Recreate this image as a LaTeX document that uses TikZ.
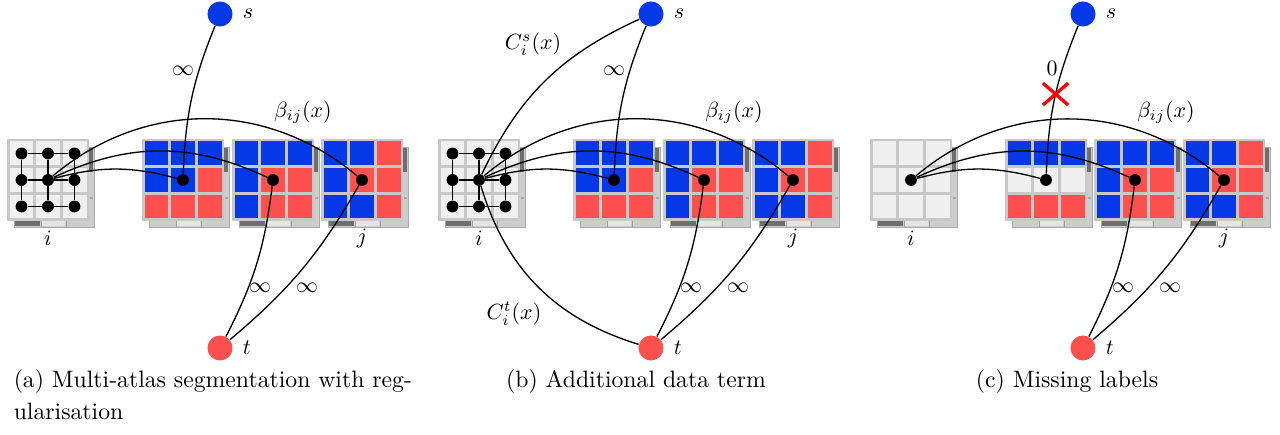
\documentclass[tikz,border=0pt]{standalone}
\usepackage{xcolor}
\usepackage{tikz}
\usetikzlibrary{positioning,shapes.misc}

\begin{document}
\begin{tikzpicture}[x=0.016cm, y=0.016cm,
  punto/.style={circle, fill=black, inner sep=0pt, minimum size=5.4pt},
  nodoS/.style={circle, fill=colBlu, inner sep=0pt, minimum size=11.4pt},
  nodoT/.style={circle, fill=colRosso, inner sep=0pt, minimum size=11.4pt},
  arco/.style={line width=0.6pt},
  didasc/.style={font=\fontsize{10.8pt}{13pt}\selectfont},
  croce/.style={cross out, draw=red, line width=1.5pt, minimum width=10pt, minimum height=8.5pt, inner sep=0pt}]

% Colori
\definecolor{colBlu}{HTML}{0538E6}
\definecolor{colRosso}{HTML}{FF5050}
\definecolor{colChiaro}{HTML}{F0F0F0}
\definecolor{colBordo}{HTML}{C8C8C8}
\definecolor{colOmbra}{HTML}{CDCDCD}
\definecolor{colScuro}{HTML}{6E6E6E}
\colorlet{bl}{colBlu}
\colorlet{rs}{colRosso}
\colorlet{gr}{colChiaro}

\useasboundingbox (0,0) rectangle (1280,-435);

% Riquadro 3x3: centro x, centro y, 9 colori, barra scura in basso (1/0)
\def\riquadro#1#2#3#4{%
  \begin{scope}[shift={(#1,#2)}]
    \fill[colOmbra, draw=colBordo!85!black, line width=0.2pt] (-34,33) rectangle (46,-47);
    \fill[colScuro] (41,32) rectangle (45,8);
    \fill[colScuro!60] (42,-17) rectangle (45,-19);
    \ifnum#4=1 \fill[colScuro] (-33,-41) rectangle (-8,-46);\fi
    \fill[colChiaro!70!colOmbra] (-6,-41) rectangle (17,-46);
    \draw[colBordo!80!black, line width=0.3pt] (-7,-41) -- (-7,-47) (18,-41) -- (18,-47);
    \fill[colBordo] (-41,41) rectangle (41,-41);
    \foreach \cc [count=\k from 0] in {#3} {
      \pgfmathtruncatemacro\kc{mod(\k,3)}
      \pgfmathtruncatemacro\kr{(\k+0.5)/3}
      \fill[fill=\cc] ({-40+26.667*\kc+1.5},{40-26.667*\kr-1.5}) rectangle ++(23.667,-23.667);
    }
  \end{scope}}

% Pannello (a)
\riquadro{48}{-180}{gr,gr,gr,gr,gr,gr,gr,gr,gr}{1}
\riquadro{183}{-180}{bl,bl,bl,bl,bl,rs,rs,rs,rs}{0}
\riquadro{273}{-180}{bl,bl,bl,bl,rs,rs,bl,rs,rs}{1}
\riquadro{362}{-180}{bl,bl,rs,bl,rs,rs,bl,bl,rs}{1}

\foreach \r in {0,1,2}
  \foreach \c in {0,1,2}
    \node[punto] (a\r\c) at ({48+26.5*(\c-1)},{-180-26.5*(\r-1)}) {};
\foreach \r in {0,1,2} \draw[arco] (a\r0) -- (a\r1) -- (a\r2);
\foreach \c in {0,1,2} \draw[arco] (a0\c) -- (a1\c) -- (a2\c);

\node[punto] (aP1) at (183,-180) {};
\node[punto] (aP2) at (273,-180) {};
\node[punto] (aP3) at (362,-180) {};
\node[nodoS] (aS) at (220,-14) {};
\node[nodoT] (aT) at (220,-348) {};
\node[right=1pt of aS] (aSl) {$s$};
\node[right=1pt of aT] (aTl) {$t$};

\draw[arco] (a11) to[bend left=15] (aP1);
\draw[arco] (a11) to[bend left=25] (aP2);
\draw[arco] (a11) to[bend left=40] (aP3);
\draw[arco] (aS) to[bend right=10] (aP1);
\draw[arco] (aT) to[bend right=10] (aP2);
\draw[arco] (aT) to[bend right=10] (aP3);

\node (aInf) at (183,-71) {$\infty$};
\node (aBeta) at (303,-112) {$\beta_{ij}(x)$};
\node (aInf2) at (260,-288) {$\infty$};
\node (aInf3) at (307,-288) {$\infty$};
\node (aI) at (48,-238) {$i$};
\node (aJ) at (362,-238) {$j$};
\node[didasc, anchor=base west] (aCap) at (6,-388) {(a) Multi-atlas segmentation with reg-};
\node[didasc, anchor=base west] (aCap2) at (6,-420) {ularisation};

% Pannello (b)
\riquadro{479}{-180}{gr,gr,gr,gr,gr,gr,gr,gr,gr}{1}
\riquadro{614}{-180}{bl,bl,bl,bl,bl,rs,rs,rs,rs}{0}
\riquadro{704}{-180}{bl,bl,bl,bl,rs,rs,bl,rs,rs}{1}
\riquadro{793}{-180}{bl,bl,rs,bl,rs,rs,bl,bl,rs}{1}

\foreach \r in {0,1,2}
  \foreach \c in {0,1,2}
    \node[punto] (b\r\c) at ({479+26.5*(\c-1)},{-180-26.5*(\r-1)}) {};
\foreach \r in {0,1,2} \draw[arco] (b\r0) -- (b\r1) -- (b\r2);
\foreach \c in {0,1,2} \draw[arco] (b0\c) -- (b1\c) -- (b2\c);

\node[punto] (bP1) at (614,-180) {};
\node[punto] (bP2) at (704,-180) {};
\node[punto] (bP3) at (793,-180) {};
\node[nodoS] (bS) at (651,-14) {};
\node[nodoT] (bT) at (651,-348) {};
\node[right=1pt of bS] (bSl) {$s$};
\node[right=1pt of bT] (bTl) {$t$};

\draw[arco] (b11) to[bend left=15] (bP1);
\draw[arco] (b11) to[bend left=25] (bP2);
\draw[arco] (b11) to[bend left=40] (bP3);
\draw[arco] (bS) to[bend right=10] (bP1);
\draw[arco] (bT) to[bend right=10] (bP2);
\draw[arco] (bT) to[bend right=10] (bP3);
\draw[arco] (bS) to[bend right=20] (b11);
\draw[arco] (b11) to[bend right=28] (bT);

\node (bInf) at (614,-71) {$\infty$};
\node (bBeta) at (734,-112) {$\beta_{ij}(x)$};
\node (bInf2) at (691,-288) {$\infty$};
\node (bInf3) at (738,-288) {$\infty$};
\node[inner sep=0.5pt] (bCs) at (533,-44) {$C_i^s(x)$};
\node[inner sep=0.5pt] (bCt) at (514,-314) {$C_i^t(x)$};
\node (bI) at (479,-238) {$i$};
\node (bJ) at (793,-238) {$j$};
\node[didasc, anchor=base] (bCap) at (636,-388) {(b) Additional data term};

% Pannello (c)
\riquadro{911}{-180}{gr,gr,gr,gr,gr,gr,gr,gr,gr}{1}
\riquadro{1046}{-180}{bl,bl,bl,gr,gr,gr,rs,rs,rs}{0}
\riquadro{1135}{-180}{bl,bl,bl,bl,rs,rs,bl,rs,rs}{1}
\riquadro{1224}{-180}{bl,bl,rs,bl,rs,rs,bl,bl,rs}{1}

\node[punto] (cI) at (911,-180) {};
\node[punto] (cP1) at (1046,-180) {};
\node[punto] (cP2) at (1135,-180) {};
\node[punto] (cP3) at (1224,-180) {};
\node[nodoS] (cS) at (1083,-14) {};
\node[nodoT] (cT) at (1083,-348) {};
\node[right=1pt of cS] (cSl) {$s$};
\node[right=1pt of cT] (cTl) {$t$};

\draw[arco] (cI) to[bend left=15] (cP1);
\draw[arco] (cI) to[bend left=25] (cP2);
\draw[arco] (cI) to[bend left=40] (cP3);
\draw[arco] (cS) to[bend right=10] node[pos=0.47, croce] (cX) {} (cP1);
\draw[arco] (cT) to[bend right=10] (cP2);
\draw[arco] (cT) to[bend right=10] (cP3);

\node (cZero) at (1052,-68) {$0$};
\node (cBeta) at (1166,-112) {$\beta_{ij}(x)$};
\node (cInf2) at (1123,-288) {$\infty$};
\node (cInf3) at (1170,-288) {$\infty$};
\node (cIl) at (911,-238) {$i$};
\node (cJ) at (1224,-238) {$j$};
\node[didasc, anchor=base] (cCap) at (1067,-388) {(c) Missing labels};

\end{tikzpicture}
\end{document}
